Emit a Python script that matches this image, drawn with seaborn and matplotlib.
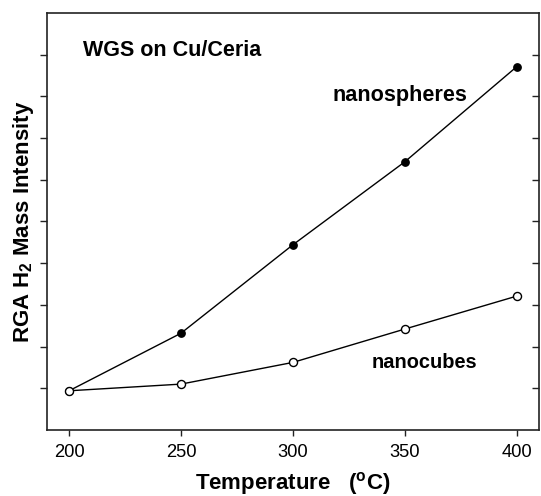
import matplotlib
matplotlib.use("Agg")
import matplotlib.pyplot as plt
import seaborn as sns
import pandas as pd

# Reaction temperatures and relative H2 signal for each ceria shape
temperature = [200, 250, 300, 350, 400]
nanospheres = [0.94, 2.32, 4.44, 6.43, 8.71]
nanocubes = [0.94, 1.10, 1.62, 2.42, 3.21]
x_ticks = [200, 250, 300, 350, 400]
y_ticks = [1, 2, 3, 4, 5, 6, 7, 8, 9]

df = pd.DataFrame({
    "Temperature": temperature * 2,
    "Intensity": nanospheres + nanocubes,
    "Shape": ["nanospheres"] * len(temperature) + ["nanocubes"] * len(temperature),
})

sns.set_theme(style="white")
plt.rcParams["font.family"] = ["Liberation Sans", "DejaVu Sans"]
plt.rcParams["text.color"] = "black"
plt.rcParams["axes.labelcolor"] = "black"
plt.rcParams["xtick.color"] = "black"
plt.rcParams["ytick.color"] = "black"
plt.rcParams["mathtext.fontset"] = "custom"
plt.rcParams["mathtext.rm"] = "Liberation Sans"
plt.rcParams["mathtext.bf"] = "Liberation Sans:bold"

fig = plt.figure(figsize=(5.41, 4.96), dpi=100)
ax = fig.add_axes([0.0863, 0.1331, 0.9100, 0.8407])

sns.lineplot(data=df[df.Shape == "nanospheres"], x="Temperature", y="Intensity",
             ax=ax, color="black", lw=1.0, marker="o", markersize=5.3,
             markerfacecolor="black", markeredgecolor="black", markeredgewidth=1.0)
sns.lineplot(data=df[df.Shape == "nanocubes"], x="Temperature", y="Intensity",
             ax=ax, color="black", lw=1.0, marker="o", markersize=5.8,
             markerfacecolor="white", markeredgecolor="black", markeredgewidth=1.0)

ax.set_xlim(190, 410)
ax.set_ylim(0, 10)
ax.set_xticks(x_ticks)
ax.set_xticklabels([str(t) for t in x_ticks], fontsize=13.2)
ax.set_yticks(y_ticks)
ax.set_yticklabels([])

for s in ax.spines.values():
    s.set_color("#222222")
    s.set_linewidth(1.2)

ax.tick_params(axis="x", direction="out", length=4, width=1.0, color="#222222",
               bottom=True, top=False, pad=6)
ax.tick_params(axis="y", direction="out", length=5, width=1.0, color="#222222",
               left=True, right=False)

# inward ticks on the right-hand frame
ax_r = ax.twinx()
ax_r.set_ylim(ax.get_ylim())
ax_r.set_yticks(y_ticks)
ax_r.set_yticklabels([])
ax_r.tick_params(axis="y", direction="in", length=5, width=1.0, color="#222222")
for s in ax_r.spines.values():
    s.set_visible(False)

ax.set_xlabel(r"Temperature   ($\mathregular{^o}$C)", fontsize=16, fontweight="bold")
ax.xaxis.set_label_coords(0.5, -0.097)
ax.set_ylabel(r"RGA H$_\mathbf{2}$ Mass Intensity", fontsize=16, fontweight="bold")
ax.yaxis.set_label_coords(-0.022, 0.5)

ax.text(206.2, 9.11, "WGS on Cu/Ceria", fontsize=15.5, fontweight="bold", va="center", ha="left")
ax.text(317.6, 8.03, "nanospheres", fontsize=15.6, fontweight="bold", va="center", ha="left")
ax.text(335.0, 1.61, "nanocubes", fontsize=14.4, fontweight="bold", va="center", ha="left")

fig.savefig("out.png", dpi=100)
